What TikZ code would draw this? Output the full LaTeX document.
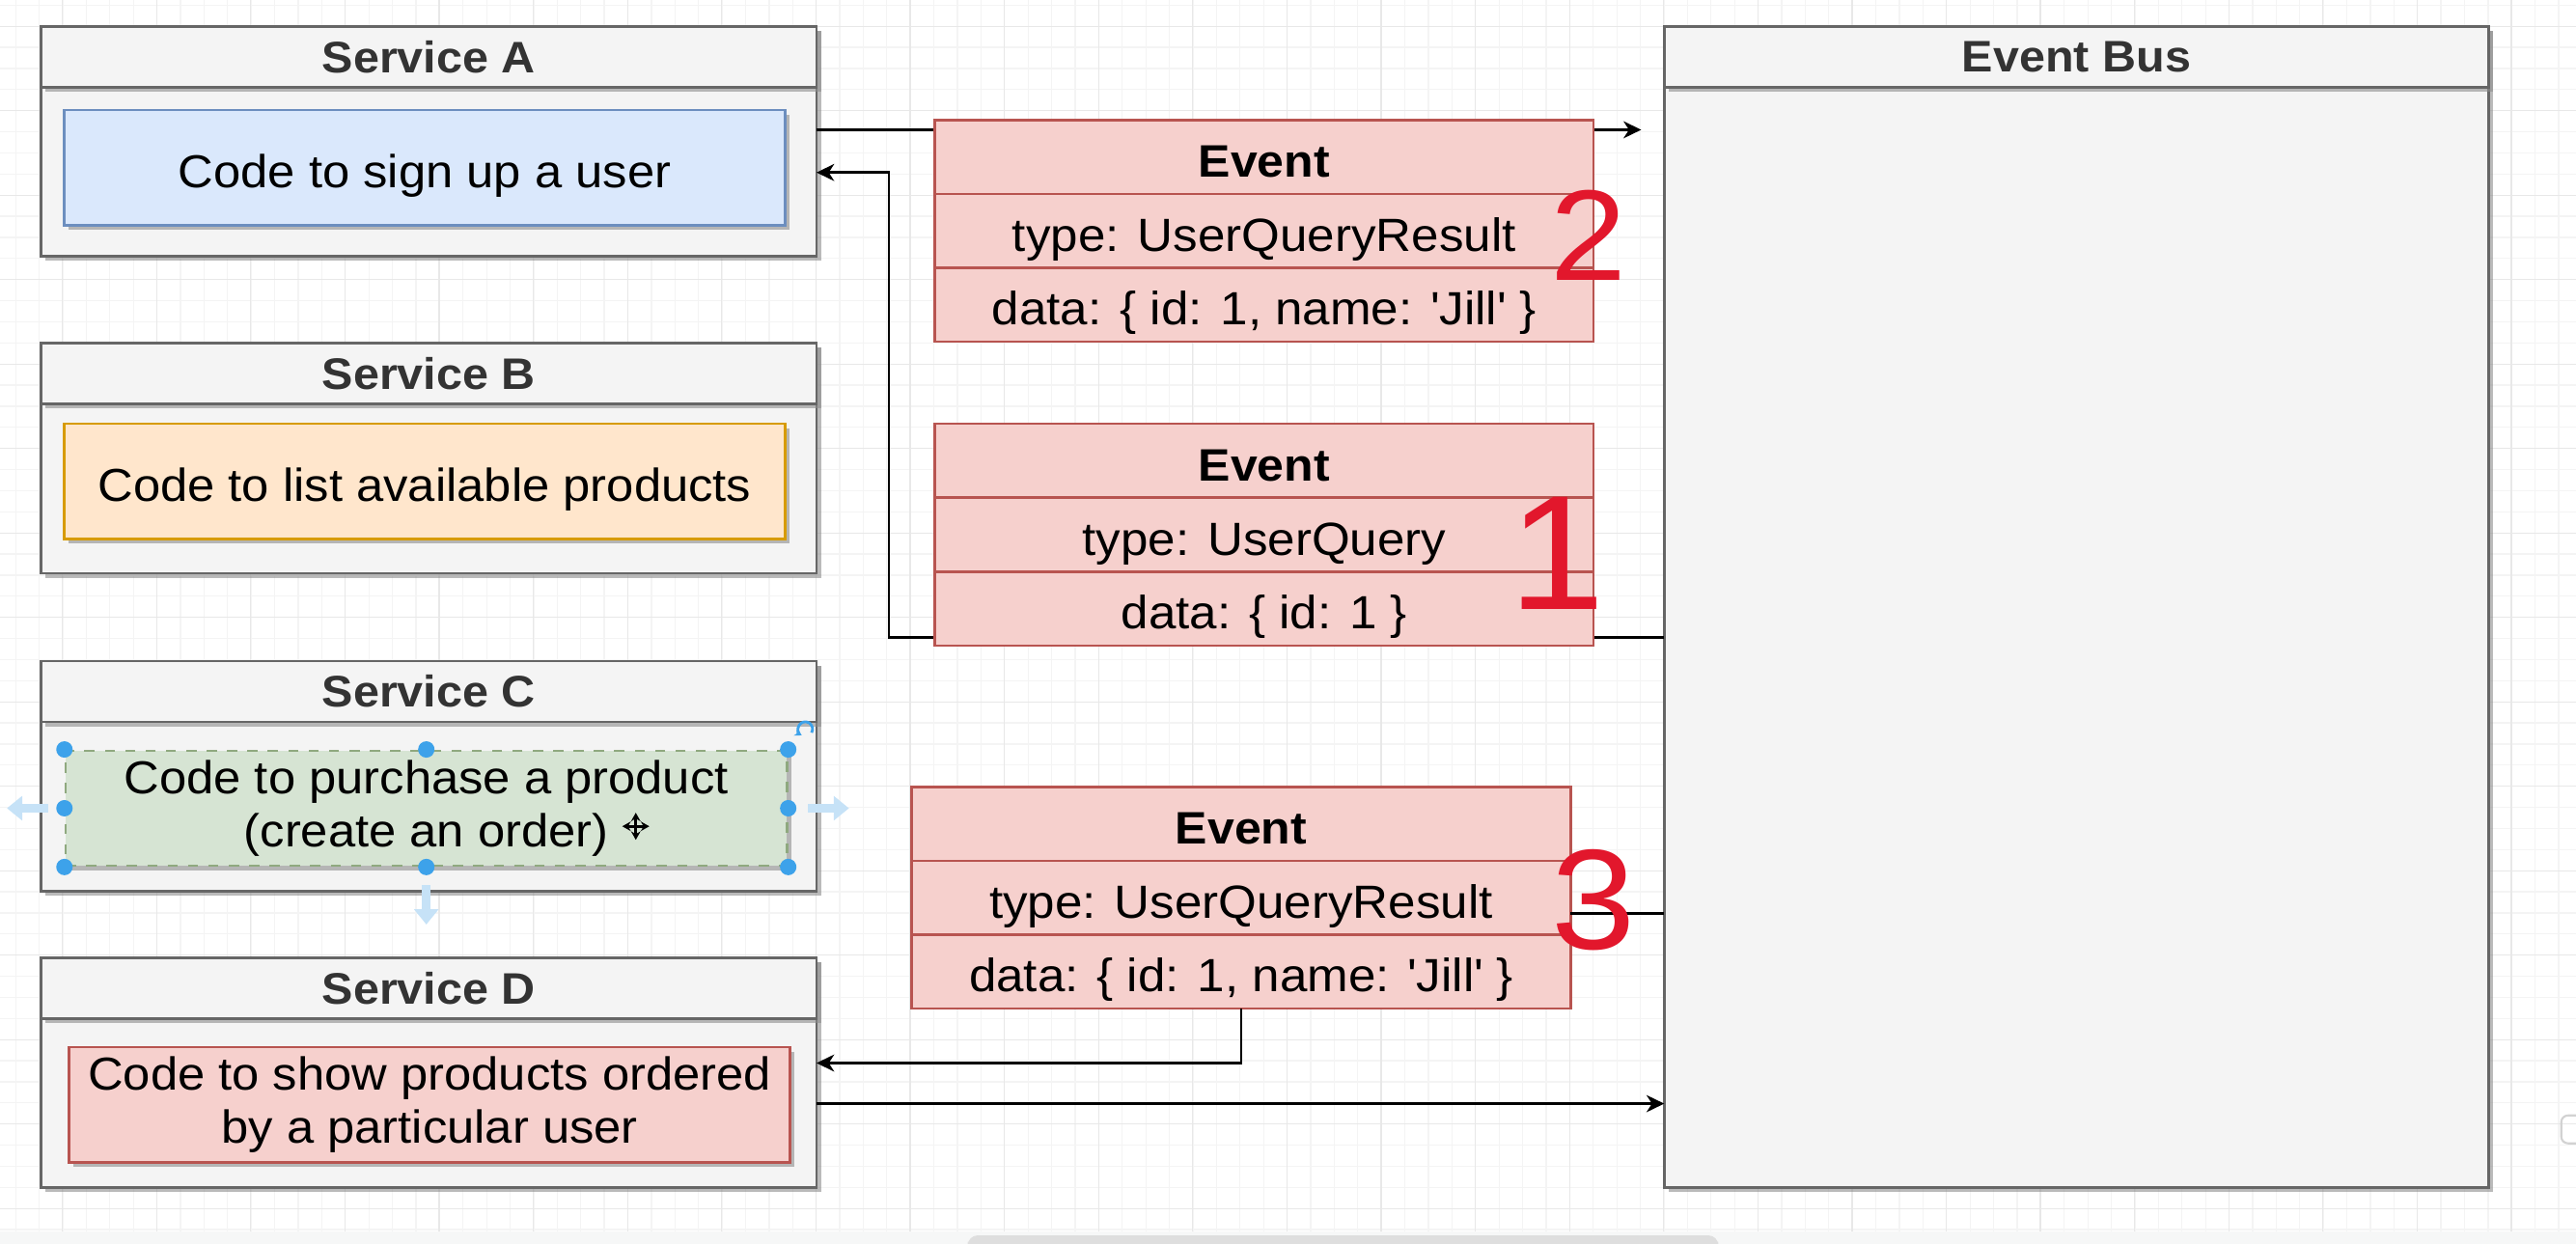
\documentclass[tikz,border=0pt]{standalone}
\usepackage{fontspec}
\setmainfont{Liberation Sans}[FakeStretch=1.06]
\usetikzlibrary{positioning,arrows.meta,shadows}

\definecolor{svcfill}{HTML}{F4F4F4}
\definecolor{svcline}{HTML}{666666}
\definecolor{headtext}{HTML}{333333}
\definecolor{bluefill}{HTML}{DAE8FC}
\definecolor{blueline}{HTML}{6C8EBF}
\definecolor{orangefill}{HTML}{FFE6CC}
\definecolor{orangeline}{HTML}{D79B00}
\definecolor{greenfill}{HTML}{D6E4D3}
\definecolor{greenline}{HTML}{8FA97F}
\definecolor{redfill}{HTML}{F6D0CD}
\definecolor{redline}{HTML}{B85450}
\definecolor{handred}{HTML}{E2172C}
\definecolor{handle}{HTML}{3DA2EA}
\definecolor{handlelight}{HTML}{C6E2F7}
\definecolor{gridminor}{HTML}{F4F4F4}
\definecolor{gridmajor}{HTML}{E8E8E8}
\definecolor{bandgray}{HTML}{F6F7F7}
\definecolor{thumbgray}{HTML}{DEDEDE}

\newcommand{\unitpx}{0.017cm}

\begin{document}
\begin{tikzpicture}[x=0.017cm, y=-0.017cm]
    % Define styles
    \tikzstyle{svc} = [draw=svcline, fill=svcfill, line width=0.75pt, inner sep=0pt, outer sep=0pt, minimum width=472*\unitpx, minimum height=140*\unitpx, drop shadow={shadow xshift=1.3pt, shadow yshift=-1.3pt, fill=black!45, opacity=0.6}]
    \tikzstyle{svchead} = [svc, minimum height=37*\unitpx, font=\fontsize{13}{15}\selectfont\bfseries, text=headtext]
    \tikzstyle{codebox} = [line width=0.75pt, minimum width=439*\unitpx, minimum height=70*\unitpx, inner sep=0pt, align=center, font=\fontsize{13.6}{15.5}\selectfont, drop shadow={shadow xshift=1.3pt, shadow yshift=-1.3pt, fill=black!45, opacity=0.6}]
    \tikzstyle{oneline} = [text height=13pt, text depth=1pt]
    \tikzstyle{evrow} = [draw=redline, fill=redfill, line width=0.75pt, minimum width=401*\unitpx, minimum height=45*\unitpx, inner sep=0pt, outer sep=0pt, oneline, font=\fontsize{13.7}{16}\selectfont]
    \tikzstyle{evhead} = [evrow, font=\fontsize{13.4}{16}\selectfont\bfseries]
    \tikzstyle{link} = [line width=0.75pt, -{Stealth[length=5.2pt, width=5pt, inset=1.6pt]}]
    \tikzstyle{wire} = [line width=0.75pt]
    \tikzstyle{hint} = [draw=handlelight, line width=2.4pt, -{Triangle[length=4.5pt, width=7pt]}]
    \tikzstyle{handdigit} = [text=handred, inner sep=0pt]

    \useasboundingbox (0,0) rectangle (1568,757);
    \clip (0,0) rectangle (1568,757);

    % Background grid
    \foreach \gx in {9.5,23.833,...,1568} \draw[gridminor, line width=0.35pt] (\gx,0) -- (\gx,749.5);
    \foreach \gy in {3.15,16,...,749} \draw[gridminor, line width=0.35pt] (0,\gy) -- (1568,\gy);
    \foreach \gx in {38,95.333,...,1568} \draw[gridmajor, line width=0.35pt] (\gx,0) -- (\gx,749.5);
    \foreach \gy in {16,67.4,...,749} \draw[gridmajor, line width=0.35pt] (0,\gy) -- (1568,\gy);

    % Services
    \node[svc] (sA) at (261,86) {};
    \node[svchead, anchor=north] (sAh) at (sA.north) {Service A};
    \node[codebox, oneline, fill=bluefill, draw=blueline] (sAc) at (258.5,102) {Code to sign up a user};

    \node[svc] (sB) at (261,279) {};
    \node[svchead, anchor=north] (sBh) at (sB.north) {Service B};
    \node[codebox, oneline, fill=orangefill, draw=orangeline] (sBc) at (258.5,293) {Code to list available products};

    \node[svc] (sC) at (261,472.5) {};
    \node[svchead, anchor=north] (sCh) at (sC.north) {Service C};
    \node[codebox, fill=greenfill, draw=greenline, dashed] (sCc) at (259.5,492) {Code to purchase a product\\(create an order)};

    \node[svc] (sD) at (261,653) {};
    \node[svchead, anchor=north] (sDh) at (sD.north) {Service D};
    \node[codebox, fill=redfill, draw=redline] (sDc) at (261.5,672.5) {Code to show products ordered\\by a particular user};

    % Event bus
    \node[svc, minimum width=502*\unitpx, minimum height=707*\unitpx] (bus) at (1264,369.5) {};
    \node[svchead, minimum width=502*\unitpx, anchor=north] (bush) at (bus.north) {Event Bus};

    % Connectors running behind the events
    \coordinate (toBus) at (999,79);
    \draw[link] (sA.east |- toBus) -- (toBus);
    \coordinate (loopB) at (541,388);
    \coordinate (loopT) at (541,105);
    \draw[link] (bus.west |- loopB) -- (loopB) -- (loopT) -- (sA.east |- loopT);

    % Events
    \node[evhead] (e2h) at (769.5,95.5) {Event};
    \node[evrow, below=0pt of e2h] (e2t) {type: UserQueryResult};
    \node[evrow, below=0pt of e2t] (e2d) {data: \{ id: 1, name: \textquotesingle Jill\textquotesingle{} \}};

    \node[evhead] (e1h) at (769.5,280.5) {Event};
    \node[evrow, below=0pt of e1h] (e1t) {type: UserQuery};
    \node[evrow, below=0pt of e1t] (e1d) {data: \{ id: 1 \}};

    \node[evhead] (e3h) at (755.5,501.5) {Event};
    \node[evrow, below=0pt of e3h] (e3t) {type: UserQueryResult};
    \node[evrow, below=0pt of e3t] (e3d) {data: \{ id: 1, name: \textquotesingle Jill\textquotesingle{} \}};

    % Remaining connectors
    \draw[wire] ([yshift=-0.16cm]e3t.east) coordinate (e3out) -- (bus.west |- e3out);
    \draw[link] (e3d.south) |- ([yshift=0.1cm]sD.east);
    \draw[link] ([yshift=-0.32cm]sD.east) coordinate (sDout) -- (bus.west |- sDout);

    % Selection handles on Service C
    \foreach \a in {north west,north,north east,west,east,south west,south,south east}
        \fill[handle] (sCc.\a) circle (0.085cm);
    \draw[hint] (sCc.west) ++(-10,0) -- ++(-25,0);
    \draw[hint] (sCc.east) ++(12,0) -- ++(25,0);
    \draw[hint] (sCc.south) ++(0,11) -- ++(0,24);
    \draw[handle, line width=0.8pt, -{Stealth[length=2pt, width=2.5pt]}] (494,446) arc[start angle=-30, end angle=240, radius=0.075cm];
    \foreach \d in {0,90,180,270}
        \draw[line width=0.8pt, -{Stealth[length=2.5pt, width=2.8pt]}] (387,503) -- ++(\d:0.14cm);

    % Hand-written numbers
    \node[handdigit, font=\fontsize{38}{38}\selectfont] (n2) at (967,143) {2};
    \node[handdigit, font=\fontsize{48}{48}\selectfont] (n1) at (948,337) {1};
    \node[handdigit, font=\fontsize{42}{42}\selectfont] (n3) at (970,548) {3};

    % Window bottom
    \fill[bandgray] (0,749.5) rectangle (1568,757);
    \fill[thumbgray, rounded corners=3pt] (589,752) rectangle (1046,762);
    \draw[gray!35, line width=0.6pt, rounded corners=2pt] (1559,679) rectangle (1574,696);
\end{tikzpicture}
\end{document}
